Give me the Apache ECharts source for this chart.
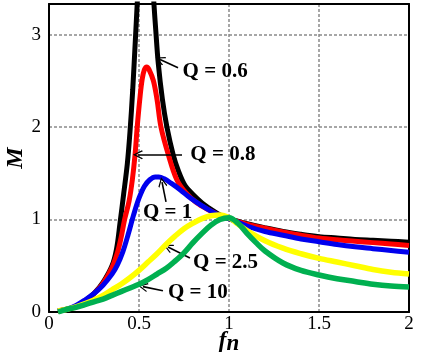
<!DOCTYPE html>
<html>
<head>
<meta charset="utf-8">
<script src="https://cdn.jsdelivr.net/npm/echarts@6/dist/echarts.min.js"></script>
<style>
html,body{margin:0;padding:0;background:#fff;}
#chart{width:426px;height:359px;}
</style>
</head>
<body>
<div id="chart"></div>
<script>
// ---- data ----
const xTicks = [0, 0.5, 1, 1.5, 2];
const yTicks = [0, 1, 2, 3];

const fnQ06 = [0.05,0.1,0.15,0.2,0.25,0.3,0.35,0.375,0.395,0.415,0.435,0.45,0.465,0.48,0.49,0.505,
               null,
               0.566,0.583,0.593,0.607,0.63,0.655,0.69,0.72,0.755,0.8,0.85,0.9,0.95,1.0,1.1,1.2,1.3,1.4,1.5,1.6,1.7,1.8,1.9,2.0];
const mQ06  = [0.01,0.03,0.06,0.12,0.2,0.32,0.5,0.68,0.97,1.28,1.6,1.95,2.4,2.95,3.33,3.9,
               null,
               3.9,3.33,3.05,2.69,2.3,2.0,1.7,1.52,1.37,1.27,1.18,1.11,1.05,1.01,0.955,0.91,0.87,0.84,0.815,0.8,0.785,0.775,0.765,0.755];

const fnQ08 = [0.05,0.1,0.15,0.2,0.25,0.3,0.35,0.38,0.4,0.42,0.445,0.463,0.478,0.49,0.506,0.518,0.53,0.543,0.556,0.58,0.6,0.622,0.663,0.71,0.76,0.82,0.9,0.95,1.0,1.1,1.2,1.3,1.4,1.5,1.6,1.7,1.8,1.9,2.0];
const mQ08  = [0.01,0.03,0.06,0.12,0.2,0.31,0.48,0.64,0.8,1.0,1.2,1.43,1.7,2.0,2.33,2.52,2.62,2.65,2.62,2.5,2.3,2.0,1.7,1.43,1.29,1.18,1.09,1.04,1.01,0.95,0.905,0.865,0.83,0.8,0.78,0.765,0.75,0.735,0.72];

const fnQ1 = [0.05,0.1,0.15,0.2,0.25,0.3,0.35,0.38,0.41,0.44,0.47,0.5,0.53,0.56,0.59,0.61,0.64,0.68,0.73,0.78,0.84,0.9,0.95,1.0,1.1,1.2,1.3,1.4,1.5,1.6,1.7,1.8,1.9,2.0];
const mQ1  = [0.01,0.03,0.07,0.13,0.2,0.29,0.41,0.51,0.65,0.84,1.05,1.23,1.36,1.43,1.46,1.46,1.44,1.39,1.32,1.24,1.16,1.09,1.04,1.01,0.93,0.87,0.83,0.79,0.76,0.73,0.705,0.685,0.665,0.645];

const fnQ25 = [0.05,0.1,0.15,0.2,0.25,0.3,0.35,0.4,0.45,0.5,0.55,0.6,0.65,0.7,0.75,0.8,0.85,0.9,0.95,1.0,1.05,1.1,1.2,1.3,1.4,1.5,1.6,1.7,1.8,1.9,2.0];
const mQ25  = [0.01,0.03,0.055,0.09,0.13,0.18,0.24,0.3,0.37,0.45,0.54,0.63,0.73,0.82,0.9,0.96,1.01,1.04,1.05,1.02,0.95,0.88,0.77,0.69,0.63,0.58,0.54,0.5,0.46,0.43,0.41];

const fnQ10 = [0.05,0.1,0.15,0.2,0.25,0.3,0.35,0.4,0.45,0.5,0.55,0.6,0.65,0.7,0.75,0.8,0.85,0.9,0.95,1.0,1.05,1.1,1.15,1.2,1.3,1.4,1.5,1.6,1.7,1.8,1.9,2.0];
const mQ10  = [0.0,0.03,0.05,0.08,0.11,0.14,0.18,0.22,0.26,0.3,0.35,0.41,0.47,0.55,0.64,0.75,0.85,0.94,1.0,1.02,0.96,0.85,0.75,0.66,0.53,0.45,0.4,0.36,0.33,0.3,0.28,0.27];

const qLabels = ['Q = 0.6', 'Q = 0.8', 'Q = 1', 'Q = 2.5', 'Q = 10'];
const qColors = ['#000000', '#ff0000', '#0000ee', '#ffff00', '#00b050'];

// annotation placement (data coordinates): text anchor, arrow tail, arrow head
const notes = [
  {at:[0.742,2.595], from:[0.717,2.64], to:[0.617,2.73]},
  {at:[0.785,1.70],  from:[0.739,1.70], to:[0.494,1.70]},
  {at:[0.522,1.07],  from:[0.650,1.19], to:[0.628,1.405]},
  {at:[0.800,0.53],  from:[0.783,0.584],to:[0.661,0.703]},
  {at:[0.661,0.205], from:[0.633,0.23], to:[0.522,0.274]}
];

const serif = "'Liberation Serif','Times New Roman',serif";
const chevron = 'path://M5,0L10,9L9,10L5,2.6L1,10L0,9Z';

function pairs(xs, ys){
  return xs.map((x,i)=> (x===null ? ['-','-'] : [x, ys[i]]));
}
const seriesData = [pairs(fnQ06,mQ06), pairs(fnQ08,mQ08), pairs(fnQ1,mQ1), pairs(fnQ25,mQ25), pairs(fnQ10,mQ10)];

const series = seriesData.map((d,i)=>({
  type:'line', name:qLabels[i], data:d, showSymbol:false, smooth:0.35,
  connectNulls:false, clip:true, z: 2+i,
  lineStyle:{color:qColors[i], width: i>=3 ? 5.5 : 5},
  itemStyle:{color:qColors[i]}, animation:false
}));

series.push({
  type:'line', data:[], silent:true, animation:false, z:20,
  markLine:{
    silent:true, animation:false, symbol:['none', chevron], symbolSize:[9,10],
    lineStyle:{color:'#000', width:1.6, type:'solid'},
    itemStyle:{color:'#000'},
    label:{show:false},
    data: notes.map(n=>[{coord:n.from},{coord:n.to}])
  },
  markPoint:{
    silent:true, animation:false, symbol:'circle', symbolSize:0.1,
    itemStyle:{color:'rgba(0,0,0,0)'},
    data: notes.map((n,i)=>({coord:n.at, value:qLabels[i],
      label:{show:true, formatter:qLabels[i], position:'right', distance:0,
        color:'#000', fontFamily:serif, fontWeight:'bold', fontSize:21}}))
  }
});

const chart = echarts.init(document.getElementById('chart'), null, {renderer:'canvas'});
chart.setOption({
  animation:false,
  backgroundColor:'#fff',
  grid:{left:49, right:17, top:4, bottom:47, containLabel:false, outerBoundsMode:'none'},
  xAxis:[{
    type:'value', min:xTicks[0], max:xTicks[xTicks.length-1], interval:0.5,
    name:'{f|f}{n|n}', nameLocation:'middle', nameGap:15, nameMoveOverlap:false,
    nameTextStyle:{rich:{
      f:{fontFamily:serif, fontStyle:'italic', fontWeight:'bold', fontSize:23, color:'#000'},
      n:{fontFamily:serif, fontStyle:'italic', fontWeight:'bold', fontSize:23, color:'#000', padding:[6,0,0,0]}
    }},
    axisLine:{show:true, onZero:false, lineStyle:{color:'#000', width:2}},
    axisTick:{show:false},
    axisLabel:{color:'#000', fontFamily:serif, fontSize:19, margin:3},
    splitLine:{show:true, showMinLine:false, showMaxLine:false, lineStyle:{color:'#8a8a8a', width:1.5, type:[3,2]}}
  },{
    type:'value', position:'top', min:xTicks[0], max:xTicks[xTicks.length-1],
    axisLine:{show:true, onZero:false, lineStyle:{color:'#000', width:2}},
    axisTick:{show:false}, axisLabel:{show:false}, splitLine:{show:false}
  }],
  yAxis:[{
    type:'value', min:yTicks[0], max:3.33, interval:1,
    name:'M', nameLocation:'middle', nameGap:21, nameMoveOverlap:false,
    nameTextStyle:{fontFamily:serif, fontStyle:'italic', fontWeight:'bold', fontSize:24, color:'#000'},
    axisLine:{show:true, onZero:false, lineStyle:{color:'#000', width:2}},
    axisTick:{show:false},
    axisLabel:{color:'#000', fontFamily:serif, fontSize:19, margin:8, showMaxLabel:false,
      formatter:v=> (yTicks.indexOf(v)>=0 ? String(v) : '')},
    splitLine:{show:true, showMinLine:false, showMaxLine:false, lineStyle:{color:'#8a8a8a', width:1.5, type:[3,2]}}
  },{
    type:'value', position:'right', min:yTicks[0], max:3.33,
    axisLine:{show:true, onZero:false, lineStyle:{color:'#000', width:2}},
    axisTick:{show:false}, axisLabel:{show:false}, splitLine:{show:false}
  }],
  series: series
});
</script>
</body>
</html>
